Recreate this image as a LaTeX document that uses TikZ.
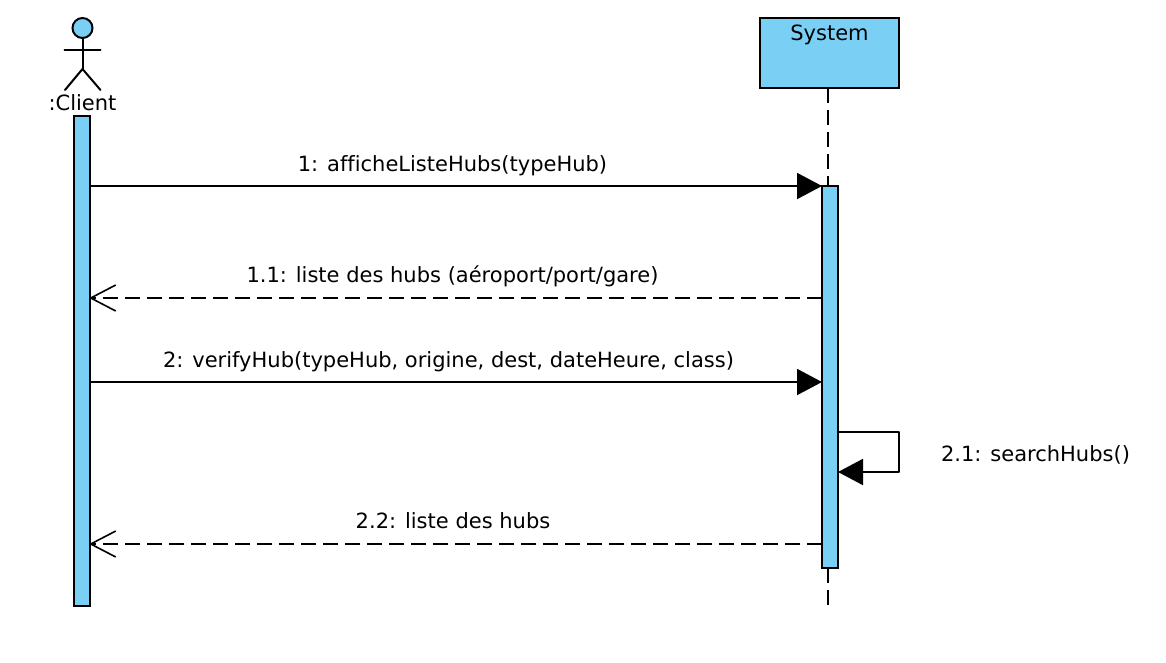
\documentclass[tikz,border=0pt]{standalone}
\usepackage{fontspec}
\setmainfont{DejaVu Sans}[Ligatures=NoCommon]
\usetikzlibrary{arrows.meta}
\definecolor{umlblue}{RGB}{122,207,245}
\tikzset{
  x=1pt,y=-1pt,
  box/.style={draw=black,fill=umlblue,line width=2pt,inner sep=0pt,outer sep=0pt},
  bar/.style={box,minimum width=16pt},
  txt/.style={font=\fontsize{21}{24}\selectfont,text=black,inner sep=0pt,anchor=base},
  lifeline/.style={line width=2pt,dash pattern=on 15pt off 7pt},
  call/.style={line width=2pt,-{Triangle[length=25pt,width=26pt]}},
  reply/.style={line width=2pt,dash pattern=on 15pt off 7pt,shorten >=-1pt,-{Straight Barb[length=25pt,width=26pt,line width=1.6pt]}},
  limb/.style={line width=2pt,line cap=round},
}
\begin{document}
\begin{tikzpicture}
\useasboundingbox (0,0) rectangle (1166,662);
% lifeline anchors
\coordinate (ltop) at (828,88);
\coordinate (lend) at (828,608);
% system box
\node[box,txt,anchor=north,minimum width=139pt,text height=22.5pt,text depth=47.5pt] (sys) at (829.5,18) {System};
% bars
\node[bar,minimum height=382pt,anchor=north] (sbar) at (830,186) {};
\node[bar,minimum height=490pt,anchor=north] (cbar) at (82,116) {};
\draw[lifeline] (sys.south -| ltop) -- (ltop |- sbar.north);
\draw[lifeline] (ltop |- sbar.south) -- (lend);
% actor
\node[draw=black,fill=umlblue,line width=2pt,circle,minimum size=20pt,inner sep=0pt,outer sep=0pt] (head) at (82.5,28) {};
\coordinate (hip) at (82.5,69);
\coordinate (armL) at (64.5,50);
\coordinate (armR) at (100.5,50);
\coordinate (footL) at (65,90);
\coordinate (footR) at (100.5,90);
\draw[limb] (head.south) -- (hip);
\draw[limb] (armL) -- (armR);
\draw[limb] (footL) -- (hip) -- (footR);
\node[txt] (client) at (82.5,110) {:Client};
% levels
\coordinate (m1) at (0,186);
\coordinate (m2) at (0,298);
\coordinate (m3) at (0,382);
\coordinate (m5) at (0,544);
\coordinate (s1) at (898.5,432);
\coordinate (s2) at (898.5,472);
% messages
\draw[call] (cbar.east |- m1) -- (sbar.west |- m1);
\draw[reply] (sbar.west |- m2) -- (cbar.east |- m2);
\draw[call] (cbar.east |- m3) -- (sbar.west |- m3);
\draw[reply] (sbar.west |- m5) -- (cbar.east |- m5);
\draw[call,line join=round] (sbar.east |- s1) -- (s1) -- (s2) -- (sbar.east |- s2);
% labels
\node[txt] (l1) at (452.5,171) {1: afficheListeHubs(typeHub)};
\node[txt] (l2) at (452.5,282.5) {1.1: liste des hubs (aéroport/port/gare)};
\node[txt] (l3) at (448.5,367) {2: verifyHub(typeHub, origine, dest, dateHeure, class)};
\node[txt] (l4) at (1035.5,461) {2.1: searchHubs()};
\node[txt] (l5) at (453,528) {2.2: liste des hubs};
\end{tikzpicture}
\end{document}
